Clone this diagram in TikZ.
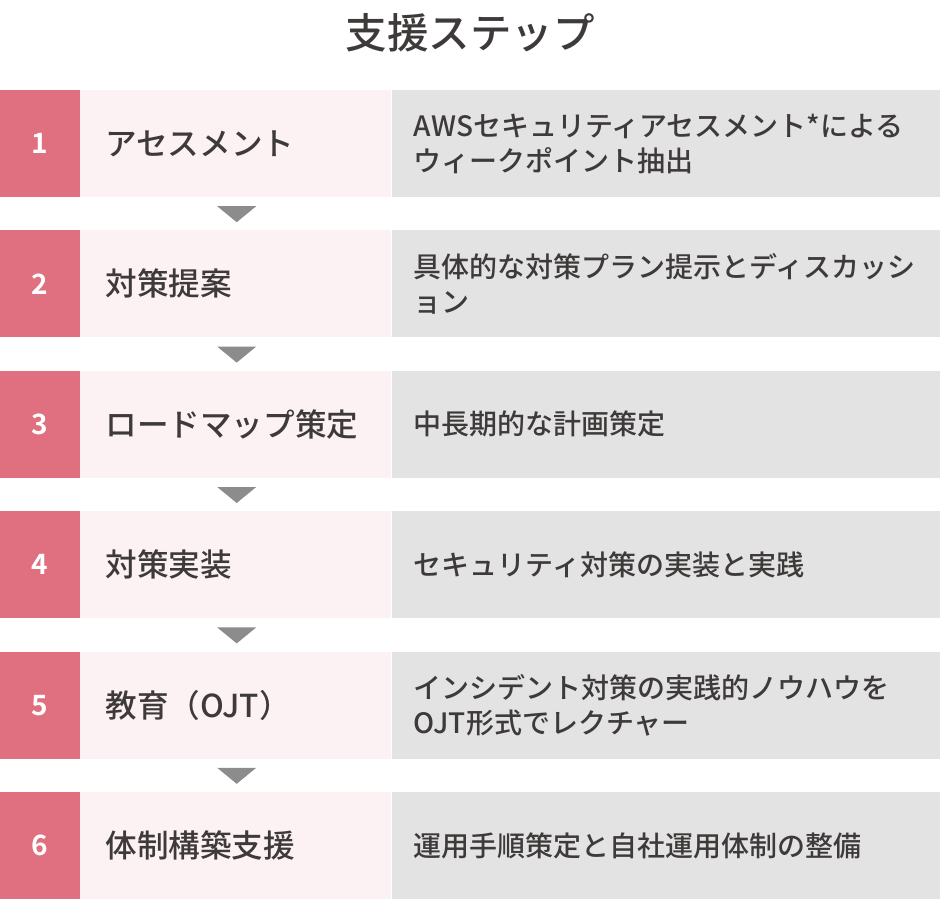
\documentclass[tikz,border=0pt]{standalone}
\usepackage{fontspec}
\setmainfont{Noto Sans CJK JP}[UprightFont={* Medium}, BoldFont={* Bold}]
\usepackage{tikz}
\usetikzlibrary{positioning,calc}
\usepackage{xcolor}
\definecolor{steppink}{HTML}{E06F7F}
\definecolor{labelpink}{HTML}{FCF1F3}
\definecolor{descgray}{HTML}{E3E3E3}
\definecolor{arrowgray}{HTML}{8C8C8C}
\definecolor{textdark}{HTML}{3E3A3A}
\tikzset{
    numbox/.style={
        fill=steppink,
        minimum width=80pt,
        minimum height=107pt,
        inner sep=0pt,
        text=white,
        font=\fontsize{28}{30}\selectfont\bfseries
    },
    labelbox/.style={
        fill=labelpink,
        minimum height=107pt,
        inner xsep=25pt,
        inner ysep=0pt,
        text width=261pt,
        align=left,
        text=textdark,
        font=\fontsize{31.6}{36}\selectfont
    },
    descbox/.style={
        fill=descgray,
        minimum height=107pt,
        inner xsep=22pt,
        inner ysep=0pt,
        text width=505pt,
        align=left,
        text=textdark,
        font=\fontsize{28}{35}\selectfont
    },
    downtri/.style={fill=arrowgray}
}

\begin{document}
\begin{tikzpicture}[x=1pt, y=1pt]
  \useasboundingbox (0,0) rectangle (940,-898);

  % Title
  \node[text=textdark, font=\fontsize{41.5}{44}\selectfont] (title) at (470,-33) {支援ステップ};

  % Step 1
  \node[numbox] (n1) at (40,-143.5) {1};
  \node[labelbox, right=0pt of n1] (t1) {アセスメント};
  \node[descbox, right=0pt of t1] (d1) {AWSセキュリティアセスメント*による\\ウィークポイント抽出};

  % Step 2
  \node[numbox, below=33pt of n1] (n2) {2};
  \node[labelbox, right=0pt of n2] (t2) {対策提案};
  \node[descbox, right=0pt of t2] (d2) {具体的な対策プラン提示とディスカッシ\\ョン};

  % Step 3
  \node[numbox, below=33pt of n2] (n3) {3};
  \node[labelbox, right=0pt of n3] (t3) {ロードマップ策定};
  \node[descbox, right=0pt of t3] (d3) {中長期的な計画策定};

  % Step 4
  \node[numbox, below=33pt of n3] (n4) {4};
  \node[labelbox, right=0pt of n4] (t4) {対策実装};
  \node[descbox, right=0pt of t4] (d4) {セキュリティ対策の実装と実践};

  % Step 5
  \node[numbox, below=33pt of n4] (n5) {5};
  \node[labelbox, right=0pt of n5] (t5) {教育（OJT）};
  \node[descbox, right=0pt of t5] (d5) {インシデント対策の実践的ノウハウを\\OJT形式でレクチャー};

  % Step 6
  \node[numbox, below=33pt of n5] (n6) {6};
  \node[labelbox, right=0pt of n6] (t6) {体制構築支援};
  \node[descbox, right=0pt of t6] (d6) {運用手順策定と自社運用体制の整備};

  % Down triangles between the steps
  \fill[downtri] ($(t1.south west)+(137,-9)$) -- ++(39,0) -- ++(-19.5,-16) -- cycle;
  \fill[downtri] ($(t2.south west)+(137,-9)$) -- ++(39,0) -- ++(-19.5,-16) -- cycle;
  \fill[downtri] ($(t3.south west)+(137,-9)$) -- ++(39,0) -- ++(-19.5,-16) -- cycle;
  \fill[downtri] ($(t4.south west)+(137,-9)$) -- ++(39,0) -- ++(-19.5,-16) -- cycle;
  \fill[downtri] ($(t5.south west)+(137,-9)$) -- ++(39,0) -- ++(-19.5,-16) -- cycle;
\end{tikzpicture}
\end{document}
